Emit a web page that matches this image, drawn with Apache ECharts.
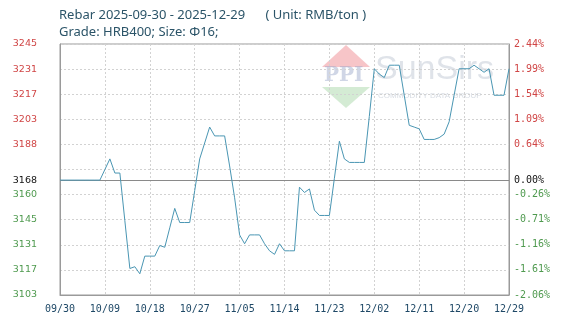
<!DOCTYPE html>
<html>
<head>
<meta charset="utf-8">
<script src="https://cdn.jsdelivr.net/npm/echarts@6/dist/echarts.min.js"></script>
<style>
html,body{margin:0;padding:0;background:#fff;}
#chart{width:574px;height:332px;}
</style>
</head>
<body>
<div id="chart"></div>
<script>
// ---- data ----
const startDate = '2025-09-30';
const dayCount = 91;
const prices = [
  3168,3168,3168,3168,3168,3168,3168,3168,3168,3174,
  3180,3172,3172,3145,3118,3119,3115,3125,3125,3125,
  3131,3130,3141,3152,3144,3144,3144,3162,3180,3189,
  3198,3193,3193,3193,3176,3158,3137,3132,3137,3137,
  3137,3132,3128,3126,3132,3128,3128,3128,3164,3161,
  3163,3151,3148,3148,3148,3169,3190,3180,3178,3178,
  3178,3178,3204,3231,3228,3226,3233,3233,3233,3216,
  3199,3198,3197,3191,3191,3191,3192,3194,3201,3216,
  3231,3231,3231,3233,3231,3229,3231,3216,3216,3216,
  3231
];
const basePrice = 3168;
const yMin = 3103;
const yMax = 3245;
const yStep = 14.2;
const leftTicks  = ['3103','3117','3131','3145','3160','','3188','3203','3217','3231','3245'];
const rightTicks = ['-2.06%','-1.61%','-1.16%','-0.71%','-0.26%','','0.64%','1.09%','1.54%','1.99%','2.44%'];
const titleLine1 = 'Rebar 2025-09-30 - 2025-12-29      ( Unit: RMB/ton )';
const titleLine2 = 'Grade: HRB400; Size: \u03A616;';

// categories (MM/DD)
const categories = [];
{
  const d0 = new Date(startDate + 'T00:00:00Z');
  for (let i = 0; i < dayCount; i++) {
    const d = new Date(d0.getTime() + i * 86400000);
    const mm = String(d.getUTCMonth() + 1).padStart(2, '0');
    const dd = String(d.getUTCDate()).padStart(2, '0');
    categories.push(mm + '/' + dd);
  }
}
const plotted = prices.map(p => +(p - yMin).toFixed(2));

const RED = '#d04545';
const GREEN = '#4f9a4f';
const tickColor = (v, i) => (i < 5 ? GREEN : RED);
const gridLine = {color: '#d2d2d2', type: [2, 2], width: 1};

const chart = echarts.init(document.getElementById('chart'), null, {renderer: 'canvas'});
chart.setOption({
  animation: false,
  backgroundColor: '#fff',
  title: {
    text: titleLine1 + '\n' + titleLine2,
    left: 54, top: 2,
    textStyle: {fontFamily: 'Noto Sans', fontSize: 13, fontWeight: 'normal', color: '#2b5468', lineHeight: 17}
  },
  graphic: [
    {type: 'polygon', left: 322, top: 45, silent: true, z: 0,
     shape: {points: [[24,0],[48,22],[0,22]]}, style: {fill: 'rgba(240,150,155,0.55)'}},
    {type: 'polygon', left: 322, top: 87, silent: true, z: 0,
     shape: {points: [[0,0],[48,0],[24,21]]}, style: {fill: 'rgba(170,215,170,0.5)'}},
    {type: 'text', left: 324, top: 66, silent: true, z: 0,
     style: {text: 'PPI', font: 'bold 20px "DejaVu Serif"', fill: 'rgba(150,165,200,0.45)'}},
    {type: 'text', left: 375, top: 53, silent: true, z: 0,
     style: {text: 'SunSirs', font: '34px "Liberation Sans"', fill: 'rgba(175,185,200,0.4)'}},
    {type: 'text', left: 378, top: 92, silent: true, z: 0,
     style: {text: 'COMMODITY DATA GROUP', font: '8px "Liberation Sans"', fill: 'rgba(175,185,200,0.5)'}}
  ],
  grid: {left: 60, right: 65, top: 44, bottom: 37, show: true, borderColor: '#9a9a9a', borderWidth: 1, backgroundColor: 'transparent'},
  xAxis: {
    type: 'category',
    data: categories,
    boundaryGap: false,
    axisLine: {lineStyle: {color: '#9a9a9a'}},
    axisTick: {show: false},
    axisLabel: {interval: 8, margin: 9, color: '#1e4866', fontFamily: 'DejaVu Sans Mono', fontSize: 10, showMaxLabel: true},
    splitLine: {show: true, interval: 8, lineStyle: gridLine}
  },
  yAxis: [
    {
      type: 'value', min: 0, max: yMax - yMin, interval: yStep, position: 'left',
      axisLine: {show: true, lineStyle: {color: '#9a9a9a'}},
      axisTick: {show: false},
      axisLabel: {margin: 23, fontFamily: 'DejaVu Sans', fontSize: 9.5,
        formatter: (v, i) => leftTicks[i] ?? '', color: tickColor},
      splitLine: {show: true, lineStyle: gridLine}
    },
    {
      type: 'value', min: 0, max: yMax - yMin, interval: yStep, position: 'right',
      axisLine: {show: true, lineStyle: {color: '#9a9a9a'}},
      axisTick: {show: false},
      axisLabel: {margin: 5, fontFamily: 'DejaVu Sans Mono', fontSize: 10,
        formatter: (v, i) => rightTicks[i] ?? '', color: tickColor},
      splitLine: {show: false}
    }
  ],
  series: [{
    type: 'line',
    data: plotted,
    showSymbol: false,
    symbol: 'none',
    lineStyle: {color: '#4a96b3', width: 1},
    z: 5,
    markLine: {
      silent: true,
      symbol: 'none',
      lineStyle: {color: '#8a8a8a', type: 'solid', width: 1},
      data: [
        {yAxis: basePrice - yMin, label: {position: 'start', distance: 23, formatter: String(basePrice), color: '#111', fontFamily: 'DejaVu Sans', fontSize: 9.5}},
        {yAxis: basePrice - yMin, label: {position: 'end', distance: 5, formatter: '0.00%', color: '#111', fontFamily: 'DejaVu Sans Mono', fontSize: 10}}
      ]
    }
  }]
});
</script>
</body>
</html>
